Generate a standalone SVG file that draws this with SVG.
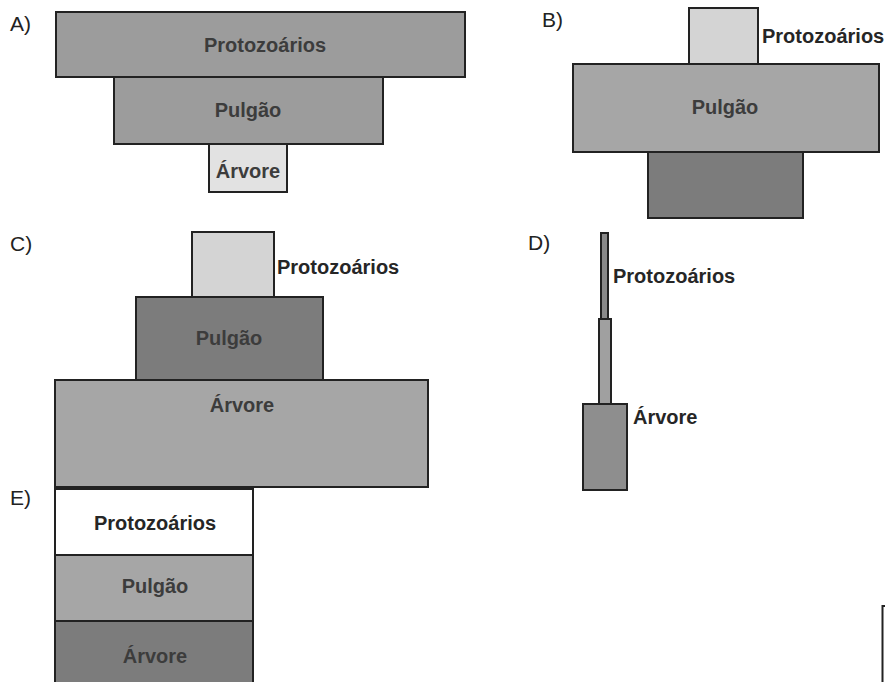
<svg xmlns="http://www.w3.org/2000/svg" width="885" height="682" viewBox="0 0 885 682">
<style>
.box{stroke:#222;stroke-width:2}
.t{font-family:"Liberation Sans",Arial,sans-serif;font-weight:bold;font-size:20px;fill:#3c3c3c}
.o{fill:#262626}
.c{text-anchor:middle}
.lbl{font-family:"Liberation Sans",Arial,sans-serif;font-size:21px;fill:#222}
.g1{fill:#9c9c9c}
.g2{fill:#a6a6a6}
.g3{fill:#7c7c7c}
.lt{fill:#d4d4d4}
.lt2{fill:#e2e2e2}
</style>
<rect width="885" height="682" fill="#fff"/>
<g id="labels">
<text class="lbl" x="10" y="31">A)</text>
<text class="lbl" x="542" y="27">B)</text>
<text class="lbl" x="10" y="251">C)</text>
<text class="lbl" x="528" y="250">D)</text>
<text class="lbl" x="10" y="505">E)</text>
</g>
<g id="A">
<g id="A-protozoarios"><rect class="box g1" x="56" y="12" width="409" height="65"/><text class="t c" x="265" y="52">Protozoários</text></g>
<g id="A-pulgao"><rect class="box g1" x="114" y="77" width="269" height="67"/><text class="t c" x="248" y="117">Pulgão</text></g>
<g id="A-arvore"><rect class="box lt2" x="209" y="144" width="78" height="48"/><text class="t c" x="248" y="178">Árvore</text></g>
</g>
<g id="B">
<g id="B-protozoarios"><rect class="box lt" x="689" y="8" width="69" height="56"/><text class="t o" x="762" y="43">Protozoários</text></g>
<g id="B-pulgao"><rect class="box g2" x="573" y="64" width="306" height="88"/><text class="t c" x="725" y="114">Pulgão</text></g>
<g id="B-arvore"><rect class="box g3" x="648" y="152" width="155" height="66"/></g>
</g>
<g id="C">
<g id="C-protozoarios"><rect class="box lt" x="192" y="232" width="82" height="65"/><text class="t o" x="277" y="274">Protozoários</text></g>
<g id="C-pulgao"><rect class="box g3" x="136" y="297" width="187" height="83"/><text class="t c" x="229" y="345">Pulgão</text></g>
<g id="C-arvore"><rect class="box g2" x="55" y="380" width="373" height="107"/><text class="t c" x="242" y="412">Árvore</text></g>
</g>
<g id="D">
<g id="D-protozoarios"><rect class="box" fill="#8a8a8a" x="601" y="233" width="7" height="86"/><text class="t o" x="613" y="283">Protozoários</text></g>
<g id="D-pulgao"><rect class="box" fill="#a0a0a0" x="599" y="319" width="12" height="85"/></g>
<g id="D-arvore"><rect class="box" fill="#8e8e8e" x="583" y="404" width="44" height="86"/><text class="t o" x="633" y="424">Árvore</text></g>
</g>
<g id="E">
<g id="E-protozoarios"><rect class="box" fill="#fff" x="55" y="489" width="198" height="66"/><text class="t c o" x="155" y="530">Protozoários</text></g>
<g id="E-pulgao"><rect class="box g2" x="55" y="555" width="198" height="66"/><text class="t c" x="155" y="593">Pulgão</text></g>
<g id="E-arvore"><rect class="box g3" x="55" y="621" width="198" height="70"/><text class="t c" x="155" y="663">Árvore</text></g>
</g>
<g id="connectors">
<path d="M885,606 H882.5 V682" fill="none" stroke="#222" stroke-width="2"/>
</g>
</svg>
